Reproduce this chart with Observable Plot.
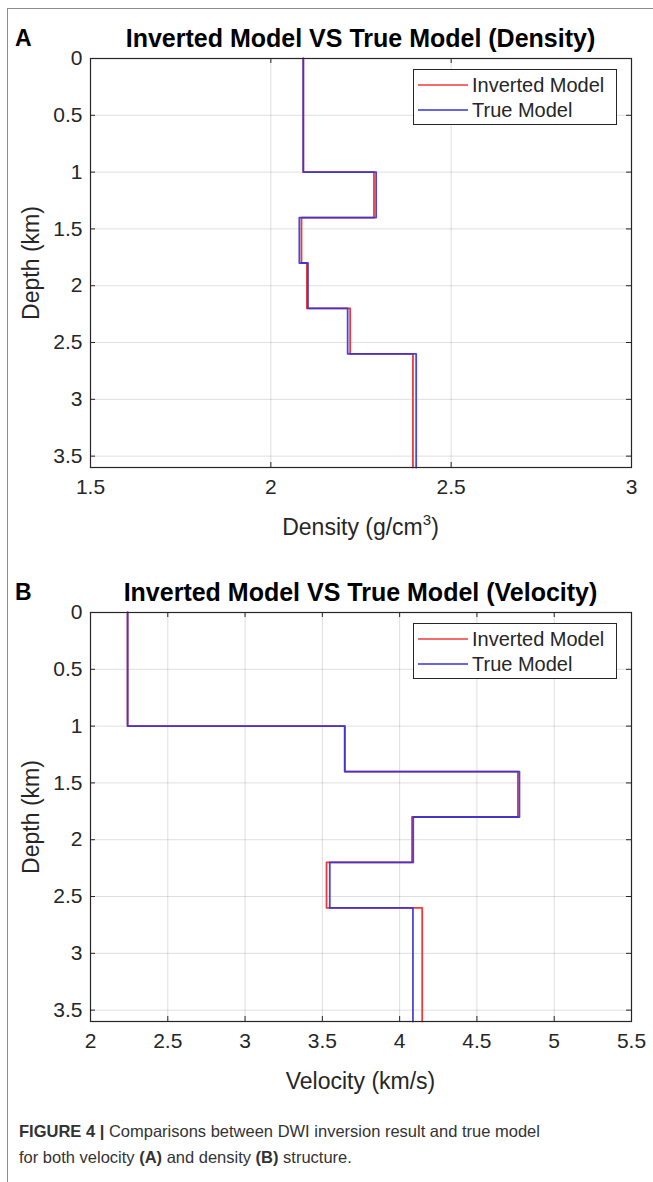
<!DOCTYPE html>
<html>
<head>
<meta charset="utf-8">
<script src="https://cdn.jsdelivr.net/npm/d3@7"></script>
<script src="https://cdn.jsdelivr.net/npm/@observablehq/plot@0.6"></script>
<style>
  html, body { margin: 0; padding: 0; background: #fff; }
  #root { position: relative; width: 653px; height: 1182px; overflow: hidden; font-family: "Liberation Sans", Arial, Helvetica, sans-serif; }
  .frameline { position: absolute; left: 7px; top: 8px; right: -2px; bottom: -2px; border-left: 1.5px solid #8c8c8c; border-top: 1.5px solid #8c8c8c; }
  .panel { position: absolute; left: 0; width: 653px; height: 554px; }
  .panel svg { position: absolute; left: 0; top: 0; }
  .letter { position: absolute; font-weight: bold; font-size: 23px; color: #000; line-height: 1; }
  .title { position: absolute; font-weight: bold; font-size: 25px; color: #000; white-space: nowrap; transform: translate(-50%, -50%); line-height: 1; }
  .xlabel { position: absolute; font-size: 23px; color: #262626; white-space: nowrap; transform: translate(-50%, -50%); line-height: 1; }
  .xlabel sup { font-size: 15px; vertical-align: 0; position: relative; top: -10px; }
  .ylabel { position: absolute; font-size: 23px; color: #262626; white-space: nowrap; transform: translate(-50%, -50%) rotate(-90deg); line-height: 1; }
  .legend { position: absolute; background: #fff; border: 1px solid #262626; box-sizing: border-box; }
  .legend .row { position: absolute; left: 0; height: 24px; display: flex; align-items: center; font-size: 20px; color: #262626; white-space: nowrap; }
  .legend .row svg { position: static; margin: 0 4px 0 4px; }
  .caption { position: absolute; left: 19px; font-size: 16.5px; color: #333; white-space: nowrap; line-height: 1; }
</style>
</head>
<body>
<div id="root">
  <div class="frameline"></div>
</div>
<script>
// ---- data ----
const depthTop = [0, 1.0, 1.4, 1.8, 2.2, 2.6];
const depthBottom = [1.0, 1.4, 1.8, 2.2, 2.6, 3.6];
const densityInverted = [2.09, 2.286, 2.085, 2.100, 2.220, 2.394];
const densityTrue     = [2.09, 2.292, 2.079, 2.103, 2.213, 2.403];
const velocityInverted = [2.24, 3.645, 4.765, 4.080, 3.527, 4.146];
const velocityTrue     = [2.24, 3.645, 4.775, 4.088, 3.548, 4.086];
const depthTicks = [0, 0.5, 1, 1.5, 2, 2.5, 3, 3.5];
const depthDomain = [0, 3.6];
const densityTicks = [1.5, 2, 2.5, 3];
const velocityTicks = [2, 2.5, 3, 3.5, 4, 4.5, 5, 5.5];
const seriesNames = ["Inverted Model", "True Model"];
const seriesColors = ["#f03a3a", "#3434dc"];
const panelTitles = ["Inverted Model VS True Model (Density)", "Inverted Model VS True Model (Velocity)"];
const panelLetters = ["A", "B"];
const xLabels = ["Density (g/cm<sup>3</sup>)", "Velocity (km/s)"];
const depthLabel = "Depth (km)";
const captionBold = "FIGURE 4 |";
const captionLines = [" Comparisons between DWI inversion result and true model",
  "for both velocity <b>(A)</b> and density <b>(B)</b> structure."];

// ---- layout ----
const W = 653, H = 554;
const mL = 90, mR = 22, mT = 58, mB = H - 467;
const boxW = W - mL - mR, boxH = H - mT - mB;
const fontStack = '"Liberation Sans", Arial, Helvetica, sans-serif';

function profile(values) {
  const pts = [];
  values.forEach((v, i) => { pts.push({x: v, y: depthTop[i]}); pts.push({x: v, y: depthBottom[i]}); });
  return pts;
}

function makePanel(idx, top, xTicks, series) {
  const root = document.getElementById("root");
  const panel = document.createElement("div");
  panel.className = "panel";
  panel.style.top = top + "px";
  root.appendChild(panel);

  const fmt = d => String(d);
  const chart = Plot.plot({
    width: W, height: H,
    marginLeft: mL, marginRight: mR, marginTop: mT, marginBottom: mB,
    style: {fontFamily: fontStack, fontSize: "21px", color: "#262626", background: "transparent", overflow: "visible"},
    x: {domain: [xTicks[0], xTicks[xTicks.length - 1]], ticks: xTicks, tickFormat: fmt, label: null},
    y: {domain: depthDomain, reverse: true, ticks: depthTicks, tickFormat: fmt, label: null},
    marks: [
      Plot.gridX(xTicks, {stroke: "#000", strokeOpacity: 0.13, strokeWidth: 1}),
      Plot.gridY(depthTicks, {stroke: "#000", strokeOpacity: 0.13, strokeWidth: 1}),
      Plot.line(profile(series[0]), {x: "x", y: "y", stroke: seriesColors[0], strokeWidth: 1.8, curve: "linear"}),
      Plot.line(profile(series[1]), {x: "x", y: "y", stroke: seriesColors[1], strokeWidth: 1.8, strokeOpacity: 0.9, curve: "linear"}),
      Plot.ruleX(xTicks, {x: d => d, insetTop: boxH - 5, stroke: "#262626"}),
      Plot.ruleX(xTicks, {x: d => d, insetBottom: boxH - 5, stroke: "#262626"}),
      Plot.ruleY(depthTicks, {y: d => d, insetRight: boxW - 5, stroke: "#262626"}),
      Plot.ruleY(depthTicks, {y: d => d, insetLeft: boxW - 5, stroke: "#262626"}),
      Plot.frame({stroke: "#262626", strokeWidth: 1.2}),
      Plot.axisX(xTicks, {tickSize: 0, tickPadding: 12, label: null, tickFormat: fmt, fontSize: 21, fill: "#262626"}),
      Plot.axisY(depthTicks, {tickSize: 0, tickPadding: 8, label: null, tickFormat: fmt, fontSize: 21, fill: "#262626"})
    ]
  });
  panel.appendChild(chart);

  const letter = document.createElement("div");
  letter.className = "letter";
  letter.textContent = panelLetters[idx];
  letter.style.left = "15px"; letter.style.top = "27px";
  panel.appendChild(letter);

  const title = document.createElement("div");
  title.className = "title";
  title.textContent = panelTitles[idx];
  title.style.left = (mL + boxW / 2) + "px"; title.style.top = "38px";
  panel.appendChild(title);

  const xl = document.createElement("div");
  xl.className = "xlabel";
  xl.innerHTML = xLabels[idx];
  xl.style.left = (mL + boxW / 2) + "px"; xl.style.top = (mT + boxH + 60) + "px";
  panel.appendChild(xl);

  const yl = document.createElement("div");
  yl.className = "ylabel";
  yl.textContent = depthLabel;
  yl.style.left = "31px"; yl.style.top = (mT + boxH / 2) + "px";
  panel.appendChild(yl);

  const lg = document.createElement("div");
  lg.className = "legend";
  const lgW = 204, lgH = 56;
  lg.style.width = lgW + "px"; lg.style.height = lgH + "px";
  lg.style.left = (mL + boxW - 14 - lgW) + "px"; lg.style.top = (mT + 11) + "px";
  seriesNames.forEach((name, i) => {
    const row = document.createElement("div");
    row.className = "row";
    row.style.top = (3 + i * 25) + "px";
    row.innerHTML = `<svg width="50" height="4"><line x1="0" x2="50" y1="2" y2="2" stroke="${seriesColors[i]}" stroke-width="1.6"/></svg><span>${name}</span>`;
    lg.appendChild(row);
  });
  panel.appendChild(lg);
}

makePanel(0, 0, densityTicks, [densityInverted, densityTrue]);
makePanel(1, 554, velocityTicks, [velocityInverted, velocityTrue]);

const root = document.getElementById("root");
const c1 = document.createElement("div");
c1.className = "caption"; c1.style.top = "1123px";
c1.innerHTML = `<b>${captionBold}</b>${captionLines[0]}`;
root.appendChild(c1);
const c2 = document.createElement("div");
c2.className = "caption"; c2.style.top = "1149px";
c2.innerHTML = captionLines[1];
root.appendChild(c2);
</script>
</body>
</html>
